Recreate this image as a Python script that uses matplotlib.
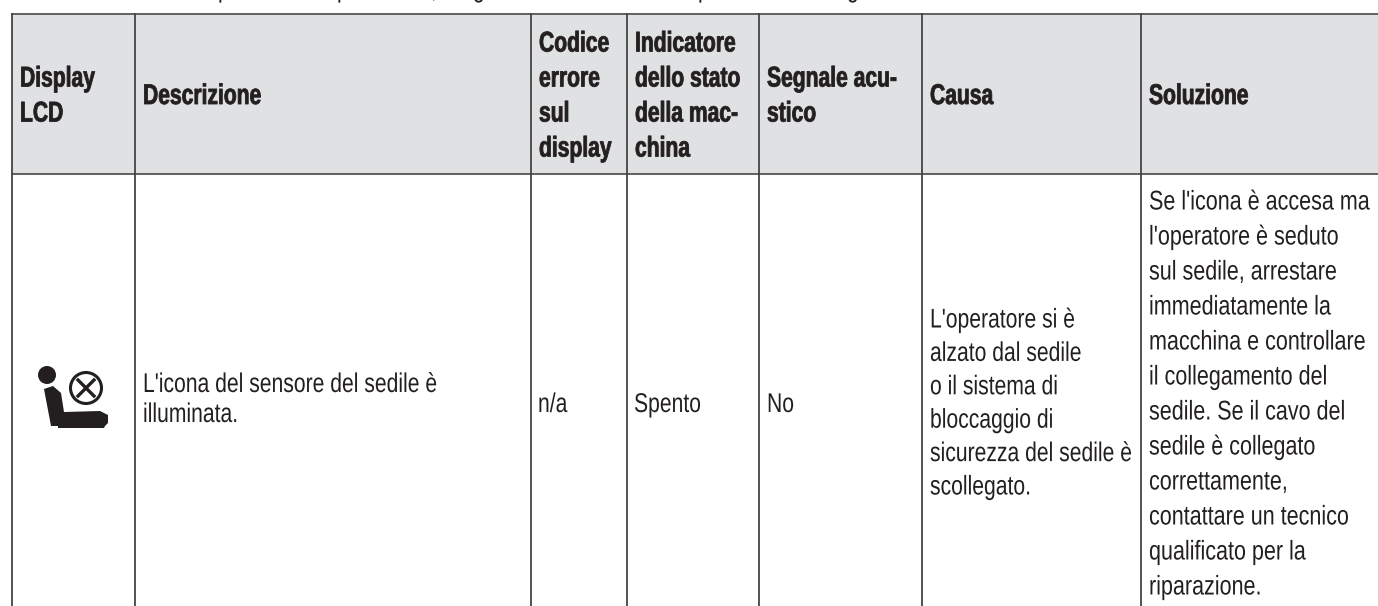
import matplotlib
matplotlib.use("Agg")
import matplotlib.pyplot as plt
from matplotlib.patches import Circle, Polygon, Rectangle
from matplotlib.patheffects import AbstractPathEffect
from matplotlib.transforms import Affine2D

plt.rcParams["font.family"] = ["Liberation Sans", "DejaVu Sans"]

W = 1378
H = 606

# table contents
col_edges = [12, 135, 531, 627, 759, 922, 1141, 1378]
headers = [["Display", "LCD"],
           ["Descrizione"],
           ["Codice", "errore", "sul", "display"],
           ["Indicatore", "dello stato", "della mac-", "china"],
           ["Segnale acu-", "stico"],
           ["Causa"],
           ["Soluzione"]]
descrizione = ["L'icona del sensore del sedile è", "illuminata."]
codice = ["n/a"]
indicatore = ["Spento"]
segnale = ["No"]
causa = ["L'operatore si è", "alzato dal sedile", "o il sistema di", "bloccaggio di",
         "sicurezza del sedile è", "scollegato."]
soluzione = ["Se l'icona è accesa ma", "l'operatore è seduto", "sul sedile, arrestare",
             "immediatamente la", "macchina e controllare", "il collegamento del",
             "sedile. Se il cavo del", "sedile è collegato", "correttamente,",
             "contattare un tecnico", "qualificato per la", "riparazione."]
# only the descenders of the line above the table are left in the picture
cut_glyphs = ["p", "p", ",", "g", "p", "g"]
cut_x = [218, 337, 431, 473, 698, 847]

ink = "#231f20"


class Condense(AbstractPathEffect):
    # squeeze glyphs sideways, no condensed font is installed
    def __init__(self, sx, lw=0):
        super().__init__()
        self.sx = sx
        self.lw = lw

    def draw_path(self, renderer, gc, tpath, affine, rgbFace=None):
        gc0 = renderer.new_gc()
        gc0.copy_properties(gc)
        gc0.set_foreground(ink)
        gc0.set_linewidth(self.lw)
        renderer.draw_path(gc0, tpath, Affine2D().scale(self.sx, 1) + affine, rgbFace)
        gc0.restore()


fig = plt.figure(figsize=(W / 100, H / 100), dpi=100)
ax = fig.add_axes([0, 0, 1, 1])
ax.set_xlim(0, W)
ax.set_ylim(H, 0)
ax.axis("off")

head_top = 14
head_bot = 174
ax.add_patch(Rectangle((col_edges[0], head_top), W - col_edges[0], head_bot - head_top,
                       fc="#e0e1e3", ec="none"))
ax.plot([col_edges[0], W], [head_top, head_top], color="#555555", lw=1.3)
ax.plot([col_edges[0], W], [head_bot, head_bot], color="#555555", lw=1.3)
for x in col_edges[:-1]:
    ax.plot([x, x], [head_top, H], color="#444444", lw=1.3)


def cell(x, yc, lines, step, size, sx, weight="normal", lw=0):
    y0 = yc - step * (len(lines) - 1) / 2
    for i, s in enumerate(lines):
        ax.text(x, y0 + step * i, s, fontsize=size, weight=weight, color=ink,
                ha="left", va="center", path_effects=[Condense(sx, lw)])


for i, h in enumerate(headers):
    cell(col_edges[i] + 8, 97, h, 35, 20.5, 0.74, "bold", 0.6)

cell(143, 400, descrizione, 30, 19.5, 0.78)
cell(538, 405, codice, 30, 19.5, 0.78)
cell(634, 405, indicatore, 30, 19.5, 0.78)
cell(767, 405, segnale, 30, 19.5, 0.78)
cell(930, 404, causa, 33.4, 19.5, 0.78)
cell(1149, 395, soluzione, 35, 19.5, 0.795)

for g, x in zip(cut_glyphs, cut_x):
    ax.text(x, -3, g, fontsize=19.5, color=ink, ha="left", va="baseline",
            path_effects=[Condense(0.78)])

# seat icon
ax.add_patch(Circle((47, 375), 9, fc=ink, ec="none"))
ax.add_patch(Polygon([[44, 389], [53, 386], [61, 393], [64, 412], [100, 411], [108, 415],
                      [108, 423], [105, 426], [104, 428], [58, 428], [58, 426], [51, 426]],
                     fc=ink, ec="none"))
ax.add_patch(Circle((86, 388), 15.5, fc="white", ec=ink, lw=2.2))
ax.plot([78, 94], [380, 396], color=ink, lw=2.4)
ax.plot([78, 94], [396, 380], color=ink, lw=2.4)

fig.savefig("out.png", dpi=100)
